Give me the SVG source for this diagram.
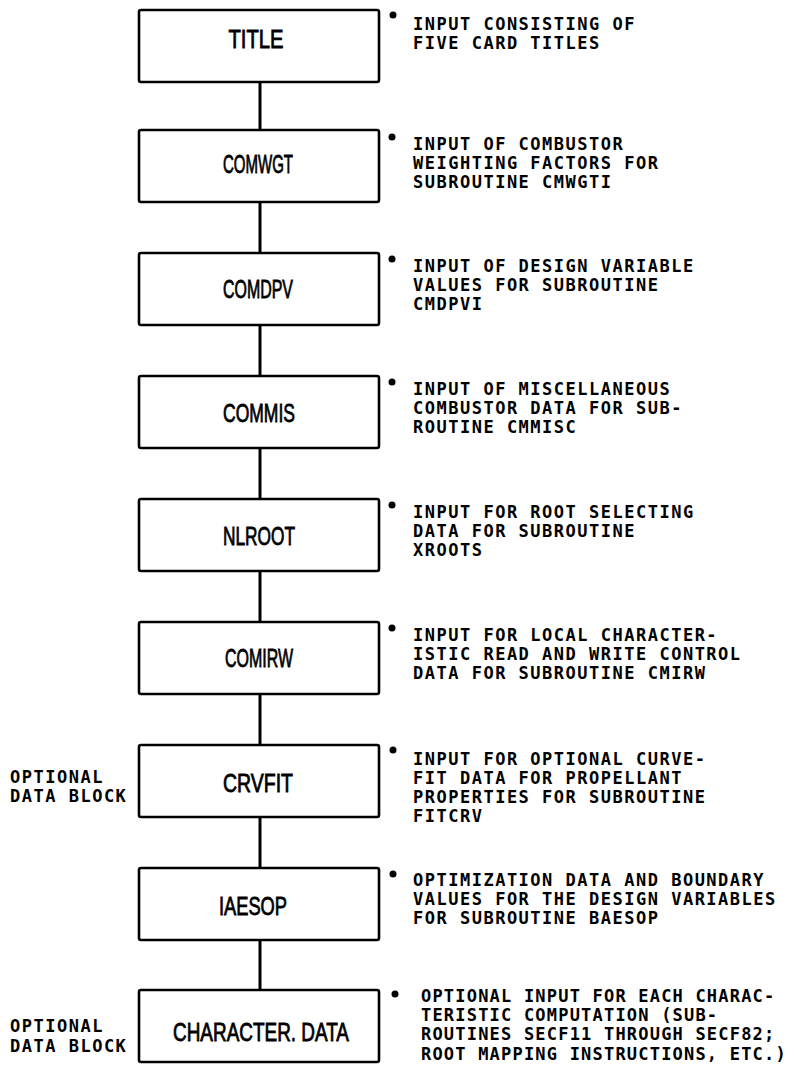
<svg xmlns="http://www.w3.org/2000/svg" width="794" height="1074" viewBox="0 0 794 1074">
<style>
.box{fill:#fff;stroke:#000;stroke-width:2.6}
.lbl{font-family:"Liberation Sans",Arial,sans-serif;font-size:25px;fill:#000;text-anchor:middle;stroke:#000;stroke-width:0.8}
.d{font-family:"DejaVu Sans Mono","Liberation Mono",monospace;font-weight:bold;font-size:17px;letter-spacing:1.5px;fill:#000}
.d2{letter-spacing:1.2px}
.conn line{stroke:#000;stroke-width:3}
</style>
<rect width="794" height="1074" fill="#fff"/>
<g id="connectors" class="conn">
<line x1="260" y1="82" x2="260" y2="130"/>
<line x1="260" y1="202" x2="260" y2="253"/>
<line x1="260" y1="325" x2="260" y2="376"/>
<line x1="260" y1="448" x2="260" y2="499"/>
<line x1="260" y1="571" x2="260" y2="622"/>
<line x1="260" y1="694" x2="260" y2="745"/>
<line x1="260" y1="817" x2="260" y2="868"/>
<line x1="260" y1="940" x2="260" y2="990"/>
</g>
<g id="n-title">
<rect class="box" x="139" y="10" width="240" height="72" rx="2"/>
<text class="lbl" x="256" y="48" textLength="55" lengthAdjust="spacingAndGlyphs">TITLE</text>
<circle cx="393" cy="15" r="3.5"/>
<text class="d" x="413" y="30">INPUT CONSISTING OF</text>
<text class="d" x="413" y="49">FIVE CARD TITLES</text>
</g>
<g id="n-comwgt">
<rect class="box" x="139" y="130" width="240" height="72" rx="2"/>
<text class="lbl" x="258" y="173" textLength="70" lengthAdjust="spacingAndGlyphs">COMWGT</text>
<circle cx="392" cy="137" r="3.5"/>
<text class="d" x="413" y="150">INPUT OF COMBUSTOR</text>
<text class="d" x="413" y="169">WEIGHTING FACTORS FOR</text>
<text class="d" x="413" y="188">SUBROUTINE CMWGTI</text>
</g>
<g id="n-comdpv">
<rect class="box" x="139" y="253" width="240" height="72" rx="2"/>
<text class="lbl" x="258" y="298" textLength="70" lengthAdjust="spacingAndGlyphs">COMDPV</text>
<circle cx="392" cy="259" r="3.5"/>
<text class="d" x="413" y="272">INPUT OF DESIGN VARIABLE</text>
<text class="d" x="413" y="291">VALUES FOR SUBROUTINE</text>
<text class="d" x="413" y="310">CMDPVI</text>
</g>
<g id="n-commis">
<rect class="box" x="139" y="376" width="240" height="72" rx="2"/>
<text class="lbl" x="259" y="422" textLength="72" lengthAdjust="spacingAndGlyphs">COMMIS</text>
<circle cx="392" cy="382" r="3.5"/>
<text class="d" x="413" y="395">INPUT OF MISCELLANEOUS</text>
<text class="d" x="413" y="414">COMBUSTOR DATA FOR SUB-</text>
<text class="d" x="413" y="433">ROUTINE CMMISC</text>
</g>
<g id="n-nlroot">
<rect class="box" x="139" y="499" width="240" height="72" rx="2"/>
<text class="lbl" x="259" y="545" textLength="72" lengthAdjust="spacingAndGlyphs">NLROOT</text>
<circle cx="392" cy="505" r="3.5"/>
<text class="d" x="413" y="518">INPUT FOR ROOT SELECTING</text>
<text class="d" x="413" y="537">DATA FOR SUBROUTINE</text>
<text class="d" x="413" y="556">XROOTS</text>
</g>
<g id="n-comirw">
<rect class="box" x="139" y="622" width="240" height="72" rx="2"/>
<text class="lbl" x="259" y="667" textLength="68" lengthAdjust="spacingAndGlyphs">COMIRW</text>
<circle cx="392" cy="628" r="3.5"/>
<text class="d" x="413" y="641">INPUT FOR LOCAL CHARACTER-</text>
<text class="d" x="413" y="660">ISTIC READ AND WRITE CONTROL</text>
<text class="d" x="413" y="679">DATA FOR SUBROUTINE CMIRW</text>
</g>
<g id="n-crvfit">
<rect class="box" x="139" y="745" width="240" height="72" rx="2"/>
<text class="lbl" x="258" y="792" textLength="70" lengthAdjust="spacingAndGlyphs">CRVFIT</text>
<circle cx="393" cy="750" r="3.5"/>
<text class="d" x="413" y="765">INPUT FOR OPTIONAL CURVE-</text>
<text class="d" x="413" y="784">FIT DATA FOR PROPELLANT</text>
<text class="d" x="413" y="803">PROPERTIES FOR SUBROUTINE</text>
<text class="d" x="413" y="822">FITCRV</text>
<text class="d" x="10" y="783">OPTIONAL</text>
<text class="d" x="10" y="802">DATA BLOCK</text>
</g>
<g id="n-iaesop">
<rect class="box" x="139" y="868" width="240" height="72" rx="2"/>
<text class="lbl" x="253" y="915" textLength="68" lengthAdjust="spacingAndGlyphs">IAESOP</text>
<circle cx="393" cy="874" r="3.5"/>
<text class="d" x="413" y="886">OPTIMIZATION DATA AND BOUNDARY</text>
<text class="d" x="413" y="905">VALUES FOR THE DESIGN VARIABLES</text>
<text class="d" x="413" y="924">FOR SUBROUTINE BAESOP</text>
</g>
<g id="n-character">
<rect class="box" x="139" y="990" width="240" height="72" rx="2"/>
<text class="lbl" x="261" y="1041" textLength="176" lengthAdjust="spacingAndGlyphs">CHARACTER. DATA</text>
<circle cx="395" cy="994" r="3.5"/>
<text class="d d2" x="421" y="1002">OPTIONAL INPUT FOR EACH CHARAC-</text>
<text class="d d2" x="421" y="1021">TERISTIC COMPUTATION (SUB-</text>
<text class="d d2" x="421" y="1040">ROUTINES SECF11 THROUGH SECF82;</text>
<text class="d d2" x="421" y="1060">ROOT MAPPING INSTRUCTIONS, ETC.)</text>
<text class="d" x="10" y="1032">OPTIONAL</text>
<text class="d" x="10" y="1052">DATA BLOCK</text>
</g>
</svg>
